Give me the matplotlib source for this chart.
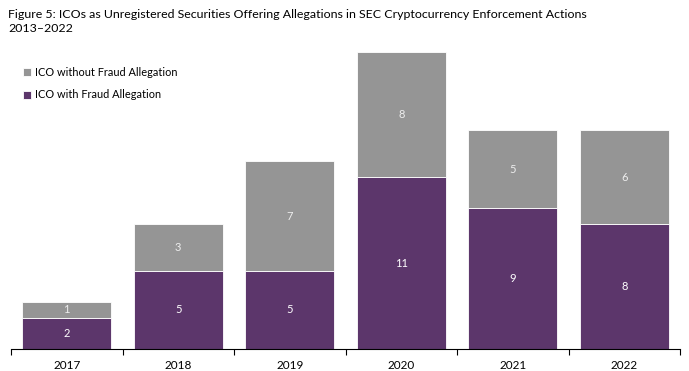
import numpy as np
import matplotlib.pyplot as plt

years = ["2017", "2018", "2019", "2020", "2021", "2022"]
with_fraud = [2, 5, 5, 11, 9, 8]
without_fraud = [1, 3, 7, 8, 5, 6]

purple = "#5C366B"
grey = "#959595"

plt.rcParams['font.family'] = ['Lato', 'DejaVu Sans']

W, H = 689, 371
fig = plt.figure(figsize=(W / 100, H / 100), dpi=100)
ax = fig.add_axes([11 / W, 22 / H, 669 / W, 297 / H])

x = np.arange(len(years))
b1 = ax.bar(x, with_fraud, width=0.8, color=purple, edgecolor="white", linewidth=0.6)
b2 = ax.bar(x, without_fraud, width=0.8, bottom=with_fraud, color=grey,
            edgecolor="white", linewidth=0.6)

for i in range(len(years)):
    ax.text(x[i], with_fraud[i] / 2, str(with_fraud[i]), ha="center", va="center",
            color="white", fontsize=8)
    ax.text(x[i], with_fraud[i] + without_fraud[i] / 2, str(without_fraud[i]),
            ha="center", va="center", color="#eeeeee", fontsize=8)

ax.set_xlim(-0.5, len(years) - 0.5)
ax.set_ylim(0, 19)
ax.set_xticks(x)
ax.set_xticklabels(years, fontsize=8.5)
ax.tick_params(axis="x", which="major", length=0, pad=8)
ax.set_xticks(np.arange(-0.5, len(years)), minor=True)
ax.tick_params(axis="x", which="minor", length=4, width=0.8, color="black")
ax.set_yticks([])
for s in ["top", "right", "left"]:
    ax.spines[s].set_visible(False)
ax.spines["bottom"].set_linewidth(0.8)

fig.text(8 / W, 1 - 14 / H, "Figure 5: ICOs as Unregistered Securities Offering Allegations in SEC Cryptocurrency Enforcement Actions",
         fontsize=8.9, va="center", ha="left")
fig.text(8 / W, 1 - 28 / H, "2013\u20132022", fontsize=8.9, va="center", ha="left")

fig.legend([b2, b1], ["ICO without Fraud Allegation", "ICO with Fraud Allegation"],
           loc="upper left", bbox_to_anchor=(13 / W, 1 - 57 / H), frameon=False,
           fontsize=7.9, handlelength=0.75, handleheight=0.75, handletextpad=0.35,
           labelspacing=1.05)

fig.savefig("out.png", dpi=100)
